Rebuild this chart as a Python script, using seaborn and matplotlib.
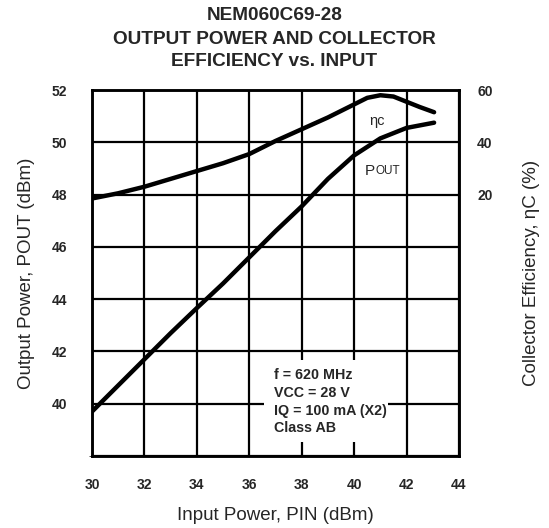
import numpy as np
import pandas as pd
import matplotlib
matplotlib.use("Agg")
import matplotlib.pyplot as plt
import seaborn as sns

# ---- data ----
pin_pout = [30, 31, 32, 33, 34, 35, 36, 37, 38, 39, 40, 41, 42, 43.05]
pout = [39.7, 40.7, 41.7, 42.7, 43.66, 44.6, 45.6, 46.6, 47.55, 48.6, 49.5, 50.15, 50.55, 50.75]
pin_eff = [30, 31, 32, 33, 34, 35, 36, 37, 38, 39, 40, 40.5, 41, 41.5, 42, 42.5, 43.05]
eff = [18.5, 20.5, 23, 26, 29, 32, 35.5, 40.5, 45, 49.5, 54.5, 57, 58, 57.5, 55.5, 53.5, 51.5]

x_ticks = [30, 32, 34, 36, 38, 40, 42, 44]
y_ticks = [40, 42, 44, 46, 48, 50, 52]
eff_ticks = [20, 40, 60]
note_lines = ["f = 620 MHz", "VCC = 28 V", "IQ = 100 mA (X2)", "Class AB"]

sns.set_style("white")
plt.rcParams['font.family'] = ['Liberation Sans', 'DejaVu Sans']

fig = plt.figure(figsize=(5.49, 5.28), dpi=100)
ax = fig.add_axes([92/549, 1-456/528, (459-92)/549, (456-90)/528])

df_p = pd.DataFrame({"pin": pin_pout, "pout": pout})
df_e = pd.DataFrame({"pin": pin_eff, "eff": eff})

ax.set_xlim(30, 44)
ax.set_ylim(38, 52)
ax.set_xticks(x_ticks)
ax.set_yticks(y_ticks)
ax.set_yticks([38], minor=True)
ax.grid(True, which="both", color="black", linewidth=1.6)
ax.set_axisbelow(True)

sns.lineplot(data=df_p, x="pin", y="pout", ax=ax, color="black", linewidth=3.2, zorder=3)

ax2 = ax.twinx()
ax2.set_ylim(-80, 60)
ax2.set_yticks(eff_ticks)
sns.lineplot(data=df_e, x="pin", y="eff", ax=ax2, color="black", linewidth=3.2, zorder=3)

for a in (ax, ax2):
    for s in a.spines.values():
        s.set_color("black")
        s.set_linewidth(1.8)
    a.tick_params(length=0, labelsize=10)
    for lab in a.get_xticklabels() + a.get_yticklabels():
        lab.set_fontweight("bold")

ax.tick_params(axis="x", pad=16)
ax.tick_params(axis="y", pad=18)
ax2.tick_params(axis="y", pad=13)

ax.set_xlabel("Input Power, PIN (dBm)", fontsize=13.5, labelpad=11)
ax.set_ylabel("Output Power, POUT (dBm)", fontsize=13.5, labelpad=12)
ax2.set_ylabel("Collector Efficiency, ηC (%)", fontsize=13.5, labelpad=22)

# white note box
ax.add_patch(plt.Rectangle((36.57, 38.53), 41.3-36.57, 41.67-38.53,
                           facecolor="white", edgecolor="none", zorder=2))
for i, t in enumerate(note_lines):
    ax.text(36.95, 41.1 - i*0.68, t, fontsize=10.3, fontweight="bold",
            va="center", ha="left", zorder=4)

ax.text(40.88, 50.8, "ηc", fontsize=10.5, ha="center", va="center", zorder=4)
ax.text(40.8, 48.9, "P", fontsize=11, ha="right", va="center", zorder=4)
ax.text(40.8, 48.9, "OUT", fontsize=8.5, ha="left", va="center", zorder=4)

fig.text(0.5, 1-15/528, "NEM060C69-28", ha="center", va="center",
         fontsize=13.7, fontweight="bold")
fig.text(0.5, 1-40/528, "OUTPUT POWER AND COLLECTOR", ha="center", va="center",
         fontsize=13.7, fontweight="bold")
fig.text(0.5, 1-62/528, "EFFICIENCY vs. INPUT", ha="center", va="center",
         fontsize=13.7, fontweight="bold")

fig.savefig("out.png", dpi=100, facecolor="white")
